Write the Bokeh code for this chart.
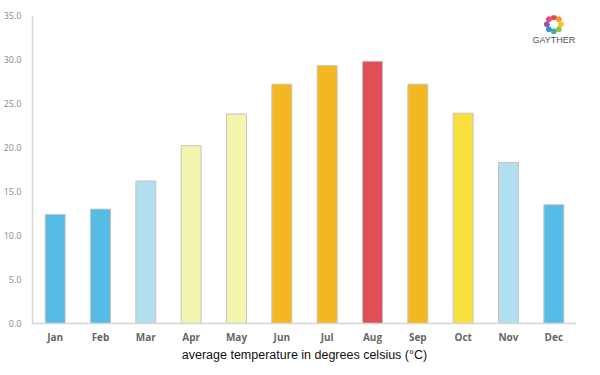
import math
from bokeh.plotting import figure
from bokeh.models import ColumnDataSource, FactorRange, Range1d, Label, NumeralTickFormatter, FixedTicker
from bokeh.embed import file_html
from bokeh.resources import INLINE

months = ["Jan", "Feb", "Mar", "Apr", "May", "Jun", "Jul", "Aug", "Sep", "Oct", "Nov", "Dec"]
temps = [12.4, 13.0, 16.2, 20.2, 23.8, 27.2, 29.3, 29.8, 27.2, 23.9, 18.3, 13.5]
colors = ["#56bce6", "#56bce6", "#b2dff0", "#f3f4ae", "#f3f4ae", "#f4b721",
          "#f4b721", "#e04e56", "#f4b721", "#f9e03f", "#b2dff0", "#56bce6"]
y_ticks = [0, 5, 10, 15, 20, 25, 30, 35]

src = ColumnDataSource(dict(month=months, temp=temps, color=colors))

p = figure(width=584, height=364, x_range=FactorRange(*months, range_padding=0),
           y_range=Range1d(0, 35), output_backend="svg", toolbar_location=None,
           min_border_left=28, min_border_right=8, min_border_top=15, min_border_bottom=0)
p.outline_line_color = None
p.xgrid.grid_line_color = None
p.ygrid.grid_line_color = None

p.vbar(x="month", top="temp", width=0.44, source=src, fill_color="color",
       line_color="#c4c4c4", line_width=1)

p.yaxis.ticker = FixedTicker(ticks=y_ticks)
p.yaxis.formatter = NumeralTickFormatter(format="0.0")
p.yaxis.axis_line_color = "#d6d6d6"
p.yaxis.axis_line_width = 1.5
p.yaxis.major_tick_line_color = None
p.yaxis.minor_tick_line_color = None
p.yaxis.major_label_text_font = "Open Sans"
p.yaxis.major_label_text_font_size = "9px"
p.yaxis.major_label_text_color = "#8a8a8a"
p.yaxis.major_label_standoff = 5

p.xaxis.axis_line_color = "#d6d6d6"
p.xaxis.axis_line_width = 1.5
p.xaxis.major_tick_line_color = None
p.xaxis.minor_tick_line_color = None
p.xaxis.major_label_text_font = "Open Sans"
p.xaxis.major_label_text_font_style = "bold"
p.xaxis.major_label_text_font_size = "10px"
p.xaxis.major_label_text_color = "#666666"
p.xaxis.major_label_standoff = 0
p.xaxis.axis_label = "average temperature in degrees celsius (°C)"
p.xaxis.axis_label_text_font = "Liberation Sans"
p.xaxis.axis_label_text_font_style = "normal"
p.xaxis.axis_label_text_font_size = "12.5px"
p.xaxis.axis_label_text_color = "#111111"
p.xaxis.axis_label_standoff = 1

# logo decoration
logo_cols = ["#e8483f", "#f39a2b", "#f4c531", "#8cc63f", "#3bb3a0", "#3a8fd0", "#8e5aa8", "#e8477f"]
cx, cy = 11.5, 34.0
xs, ys = [], []
for i in range(8):
    a = math.pi / 2 - i * 2 * math.pi / 8
    xs.append(cx + 0.155 * math.cos(a))
    ys.append(cy + 0.8 * math.sin(a))
p.scatter(xs, ys, size=5, color=logo_cols, marker="circle")
p.add_layout(Label(x=cx, y=31.7, text="GAYTHER", text_align="center", text_font="Liberation Sans",
                   text_font_size="9px", text_color="#555555"))

open("out.html", "w").write(file_html(p, INLINE))
